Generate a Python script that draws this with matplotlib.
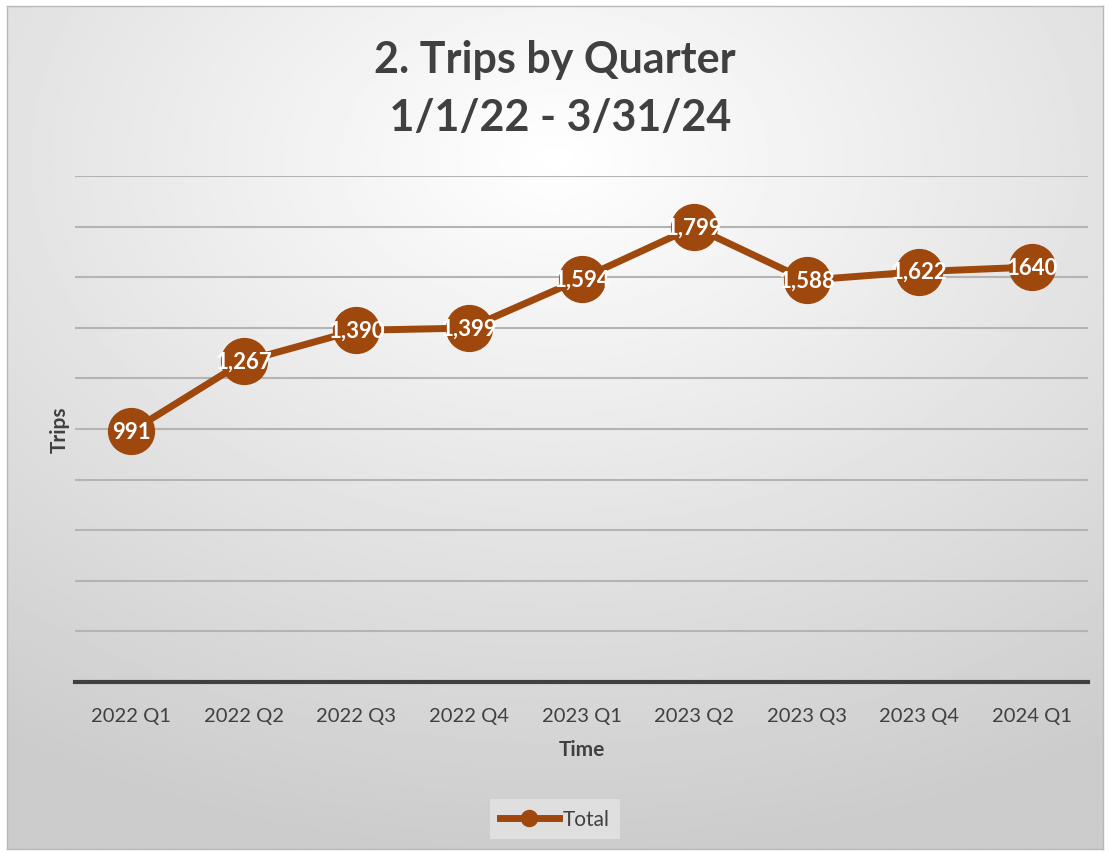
import numpy as np
import matplotlib.pyplot as plt

quarters = ["2022 Q1", "2022 Q2", "2022 Q3", "2022 Q4", "2023 Q1",
            "2023 Q2", "2023 Q3", "2023 Q4", "2024 Q1"]
trips = [991, 1267, 1390, 1399, 1594, 1799, 1588, 1622, 1640]
labels = ["991", "1,267", "1,390", "1,399", "1,594", "1,799", "1,588", "1,622", "1640"]

plt.rcParams["font.family"] = ["Lato", "DejaVu Sans"]
W, H = 1110, 854
fig = plt.figure(figsize=(W / 100, H / 100), dpi=100)

# background: radial grey gradient inside a thin frame
bg = fig.add_axes([7 / W, 4 / H, 1096 / W, 843 / H])
yy, xx = np.mgrid[0:1:300j, 0:1:400j]
r = np.sqrt(((xx - 0.5) * 1.0) ** 2 + ((yy - 0.82) * 1.1) ** 2)
shade = np.clip(1.0 - 0.22 * r, 0.80, 1.0)
bg.imshow(shade, cmap="gray", vmin=0, vmax=1, origin="lower",
          extent=[0, 1, 0, 1], aspect="auto")
bg.set_xticks([])
bg.set_yticks([])
for s in bg.spines.values():
    s.set_color("#b8b8b8")
    s.set_linewidth(1)

ax = fig.add_axes([75 / W, 1 - 683 / H, 1013 / W, 506 / H])
ax.patch.set_alpha(0)
x = np.arange(len(quarters))
color = "#9e480e"
ax.plot(x, trips, color=color, lw=5, marker="o", ms=33, zorder=3)
for xi, v, t in zip(x, trips, labels):
    ax.text(xi, v, t, ha="center", va="center", color="white",
            fontsize=16, fontweight="bold", zorder=4)

ax.set_xlim(-0.5, len(quarters) - 0.5)
ax.set_ylim(0, 2000)
ax.set_yticks(np.arange(0, 2001, 200))
ax.set_yticklabels([])
ax.tick_params(axis="y", length=0)
ax.tick_params(axis="x", length=0, pad=18, labelsize=14.5, labelcolor="#404040")
ax.set_xticks(x)
ax.set_xticklabels(quarters)
ax.grid(axis="y", color="#b4b4b4", lw=1.5)
for side in ["top", "right", "left"]:
    ax.spines[side].set_visible(False)
ax.spines["bottom"].set_color("#404040")
ax.spines["bottom"].set_linewidth(3)
ax.set_xlabel("Time", fontsize=15, fontweight="bold", color="#404040", labelpad=11)
ax.set_ylabel("Trips", fontsize=15, fontweight="bold", color="#404040", labelpad=0)

fig.text(0.5, 1 - 60 / H, "2. Trips by Quarter", ha="center", va="center",
         fontsize=31, fontweight="bold", color="#404040")
fig.text(0.5, 1 - 118 / H, " 1/1/22 - 3/31/24", ha="center", va="center",
         fontsize=31, fontweight="bold", color="#404040")

leg = ax.legend(["Total"], loc="center", bbox_to_anchor=(0.5, 1 - 820 / H),
                bbox_transform=fig.transFigure, frameon=True, fontsize=15,
                markerscale=0.35, handlelength=2.8, handletextpad=0.2,
                borderpad=0.5, fancybox=False)
leg.get_frame().set_facecolor("#e4e4e4")
leg.get_frame().set_edgecolor("none")
for t in leg.get_texts():
    t.set_color("#404040")

fig.savefig("out.png", dpi=100)
